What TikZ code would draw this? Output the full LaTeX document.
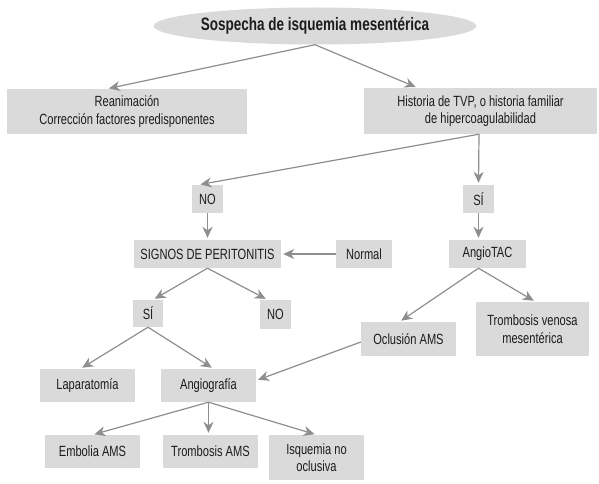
\documentclass[tikz,border=0pt]{standalone}
\usepackage{fontspec}
\setmainfont{Liberation Sans}[FakeStretch=0.75]
\usetikzlibrary{arrows.meta,shapes.geometric}
\definecolor{boxgray}{HTML}{DADADA}
\definecolor{linegray}{HTML}{8E8E8E}
\definecolor{textgray}{HTML}{1C1C1C}
\begin{document}
\begin{tikzpicture}[x=1pt,y=-1pt,
  box/.style={fill=boxgray, inner sep=0pt, align=center, text=textgray,
    font=\fontsize{14.8}{17.5}\selectfont},
  link/.style={draw=linegray, line width=1.2pt, shorten >=2pt,
    -{Stealth[length=11pt,width=10pt,inset=3.5pt]}}]
\useasboundingbox (0,0) rectangle (599,484);

% title
\node[ellipse, fill=boxgray, inner sep=0pt, minimum width=300pt, minimum height=37pt,
  text=textgray, font=\fontsize{18}{21}\selectfont\bfseries] (top) at (315,26)
  {Sospecha de isquemia mesentérica};

% first level
\node[box, minimum width=240pt, minimum height=45pt] (rean) at (127,111.5)
  {Reanimación\\Corrección factores predisponentes};
\node[box, minimum width=233pt, minimum height=46pt] (hist) at (480.5,111)
  {Historia de TVP, o historia familiar\\de hipercoagulabilidad};

% yes / no on history
\node[box, minimum width=31pt, minimum height=28pt] (no1) at (207.5,199) {NO};
\node[box, minimum width=31pt, minimum height=28pt] (si1) at (478.5,199) {SÍ};

\node[box, minimum width=147pt, minimum height=28pt] (signos) at (207.5,254) {SIGNOS DE PERITONITIS};
\node[box, minimum width=56pt, minimum height=28pt] (normal) at (364,254) {Normal};
\node[box, minimum width=77pt, minimum height=28pt] (angiotac) at (487.5,254) {AngioTAC};

\node[box, minimum width=30pt, minimum height=27pt] (si2) at (148,313.5) {SÍ};
\node[box, minimum width=31pt, minimum height=29pt] (no2) at (275.5,314.5) {NO};

\node[box, minimum width=95pt, minimum height=34pt] (ocl) at (408.5,339) {Oclusión AMS};
\node[box, minimum width=113pt, minimum height=54pt] (tvm) at (532.5,329)
  {Trombosis venosa\\mesentérica};

\node[box, minimum width=95pt, minimum height=33pt] (lap) at (87.5,385.5) {Laparatomía};
\node[box, minimum width=95pt, minimum height=33pt] (angio) at (208.5,385.5) {Angiografía};

\node[box, minimum width=95pt, minimum height=33pt] (emb) at (92.5,451.5) {Embolia AMS};
\node[box, minimum width=95pt, minimum height=33pt] (tams) at (210.5,451.5) {Trombosis AMS};
\node[box, minimum width=95pt, minimum height=45pt] (isq) at (316.5,457.5)
  {Isquemia no\\oclusiva};

% connectors
\draw[link] (top.south) -- ([xshift=-20pt]rean.north);
\draw[link] (top.south) -- ([xshift=-63pt]hist.north);
\draw[link] ([xshift=-1.5pt]hist.south) -- ([xshift=-9pt]no1.north);
\draw[link] ([xshift=-1.5pt]hist.south) -- (si1.north);
\draw[link] (no1.south) -- (signos.north);
\draw[link] (normal.west) -- (signos.east);
\draw[link] (si1.south) -- (si1.south |- angiotac.north);
\draw[link] (signos.south) -- ([xshift=5pt]si2.north);
\draw[link] (signos.south) -- ([xshift=-8pt]no2.north);
\draw[link] (si2.south) -- ([xshift=-7pt]lap.north);
\draw[link] (si2.south) -- ([xshift=5pt]angio.north);
\draw[link] ([xshift=-9pt]angiotac.south) -- ([xshift=-9pt]ocl.north);
\draw[link] ([xshift=-9pt]angiotac.south) -- ([xshift=3pt]tvm.north);
\draw[link] ([yshift=-3pt]ocl.west) -- ([yshift=5pt]angio.east);
\draw[link] (angio.south) -- (emb.north);
\draw[link] (angio.south) -- (angio.south |- tams.north);
\draw[link] (angio.south) -- (isq.north);
\end{tikzpicture}
\end{document}
